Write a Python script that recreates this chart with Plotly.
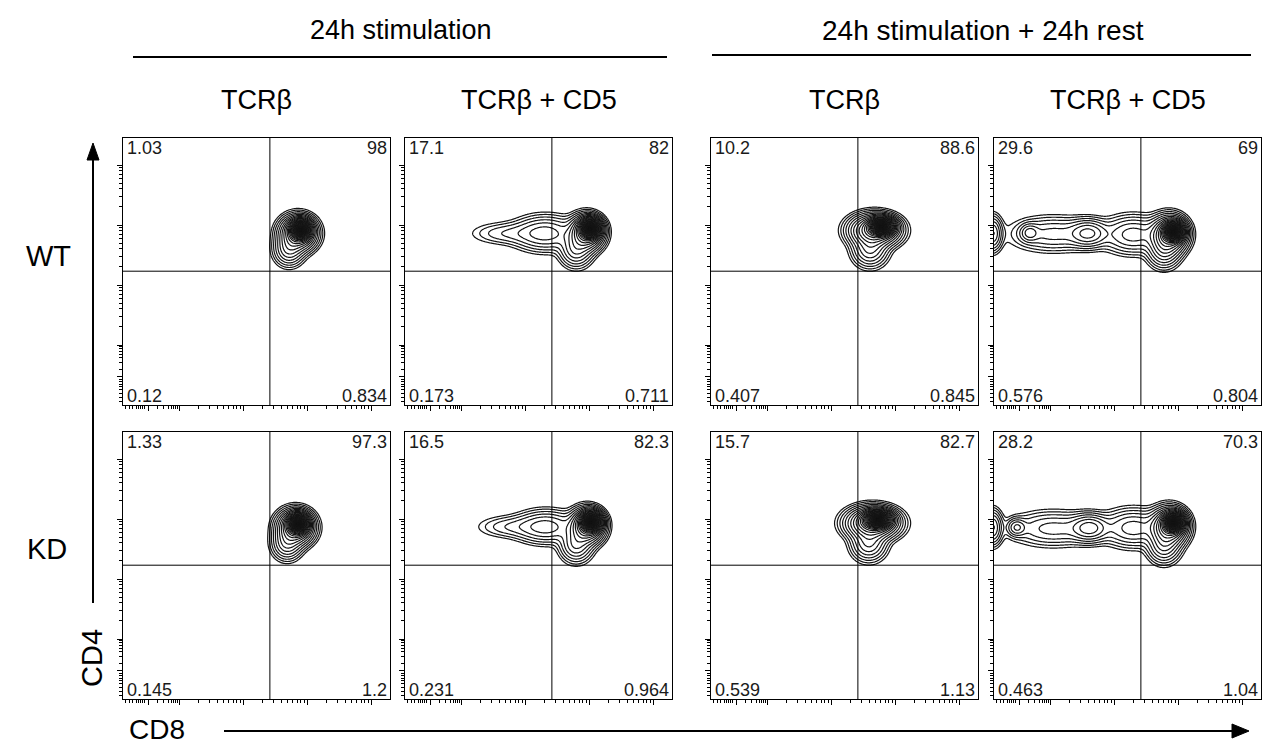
import numpy as np
import plotly.graph_objects as go

W, H = 1264, 747

# ---------------- data ----------------
group_titles = ["24h stimulation", "24h stimulation + 24h rest"]
column_titles = ["TCRβ", "TCRβ + CD5", "TCRβ", "TCRβ + CD5"]
row_titles = ["WT", "KD"]
x_label = "CD8"
y_label = "CD4"

# quadrant percentages: [upper-left, upper-right, lower-left, lower-right]
wt_quadrants = [[1.03, 98, 0.12, 0.834], [17.1, 82, 0.173, 0.711],
                [10.2, 88.6, 0.407, 0.845], [29.6, 69, 0.576, 0.804]]
kd_quadrants = [[1.33, 97.3, 0.145, 1.2], [16.5, 82.3, 0.231, 0.964],
                [15.7, 82.7, 0.539, 1.13], [28.2, 70.3, 0.463, 1.04]]

# quadrant gates (log10 units of CD8 / CD4)
gate_cd8 = 3.42
gate_cd4 = 3.23

# cell populations, per panel: [amplitude, CD8 centre, CD4 centre, CD8 spread, CD4 spread] (log10 units)
wt_tcr = [[1.0, 3.90, 3.92, 0.08, 0.08],
          [0.2, 3.86, 3.86, 0.14, 0.14],
          [0.05, 3.72, 3.60, 0.12, 0.14]]
wt_tcr_cd5 = [[1.0, 4.02, 3.94, 0.08, 0.08],
              [0.2, 3.96, 3.87, 0.13, 0.14],
              [0.05, 3.80, 3.60, 0.13, 0.15],
              [0.04, 3.32, 3.86, 0.26, 0.15],
              [0.012, 2.72, 3.86, 0.30, 0.10]]
wt_rest_tcr = [[1.0, 3.79, 3.97, 0.10, 0.07],
               [0.2, 3.68, 3.91, 0.19, 0.13],
               [0.05, 3.61, 3.60, 0.14, 0.15]]
wt_rest_tcr_cd5 = [[1.0, 3.93, 3.89, 0.08, 0.08],
                   [0.2, 3.86, 3.84, 0.14, 0.15],
                   [0.05, 3.78, 3.58, 0.13, 0.15],
                   [0.04, 3.30, 3.84, 0.25, 0.16],
                   [0.05, 2.60, 3.86, 0.16, 0.12],
                   [0.025, 2.05, 3.85, 0.35, 0.15],
                   [0.03, 1.68, 3.87, 0.08, 0.08],
                   [0.05, 1.10, 3.86, 0.08, 0.15]]
kd_tcr = [[1.0, 3.86, 3.92, 0.08, 0.08],
          [0.2, 3.82, 3.86, 0.14, 0.14],
          [0.05, 3.69, 3.60, 0.12, 0.14]]
kd_tcr_cd5 = [[1.0, 4.03, 3.95, 0.08, 0.08],
              [0.2, 3.97, 3.88, 0.13, 0.14],
              [0.05, 3.80, 3.58, 0.13, 0.15],
              [0.04, 3.33, 3.87, 0.25, 0.14],
              [0.012, 2.78, 3.87, 0.28, 0.10]]
kd_rest_tcr = [[1.0, 3.73, 3.99, 0.11, 0.07],
               [0.2, 3.65, 3.93, 0.20, 0.13],
               [0.05, 3.59, 3.60, 0.14, 0.15]]
kd_rest_tcr_cd5 = [[1.0, 3.93, 3.94, 0.08, 0.08],
                   [0.2, 3.86, 3.87, 0.14, 0.15],
                   [0.05, 3.78, 3.56, 0.13, 0.15],
                   [0.04, 3.30, 3.85, 0.25, 0.16],
                   [0.055, 2.62, 3.85, 0.16, 0.12],
                   [0.025, 2.05, 3.84, 0.35, 0.15],
                   [0.03, 1.48, 3.86, 0.08, 0.08],
                   [0.05, 1.10, 3.86, 0.08, 0.15]]

populations = [[wt_tcr, wt_tcr_cd5, wt_rest_tcr, wt_rest_tcr_cd5],
               [kd_tcr, kd_tcr_cd5, kd_rest_tcr, kd_rest_tcr_cd5]]
quadrants = [wt_quadrants, kd_quadrants]

# axis tick positions (logicle-like display, log10 units)
x_major_ticks = [1.53, 2, 3, 4, 5]
y_major_ticks = [1.47, 2, 3, 4, 5]
x_linear_ticks = [1.16, 1.22, 1.28, 1.33, 1.37, 1.40, 1.43, 1.46, 1.66, 1.76, 1.83, 1.88, 1.92, 1.95, 1.98]
y_linear_ticks = [1.06, 1.13, 1.20, 1.26, 1.31, 1.35, 1.39, 1.43, 1.60, 1.71, 1.79, 1.85, 1.90, 1.94, 1.97]
log_minor_ticks = [k + np.log10(m) for k in (2, 3, 4) for m in range(2, 10)]

# ---------------- layout geometry ----------------
col_left = [123, 405, 711, 994]
row_top = [138, 432]
PANEL = 267
X_RANGE = [1.125, 1.125 + PANEL / 64]
Y_RANGE = [1.0, 1.0 + PANEL / 60]

FONT = "Liberation Sans, Arial, sans-serif"


def px(x):
    return x / W


def py(y):
    return 1 - y / H


fig = go.Figure()
gx = np.linspace(X_RANGE[0], X_RANGE[1], 320)
gy = np.linspace(Y_RANGE[0], Y_RANGE[1], 320)
XX, YY = np.meshgrid(gx, gy)

LMAX = 6.5
P = 0.25
NLEV = 40
zmin = -(LMAX ** P)
step = -zmin / NLEV

layout_axes = {}
annotations = []
shapes = []

idx = 0
for r in range(2):
    for c in range(4):
        idx += 1
        xa = "x" if idx == 1 else f"x{idx}"
        ya = "y" if idx == 1 else f"y{idx}"
        comps = populations[r][c]
        d = np.zeros_like(XX)
        for a, mx, my, sx, sy in comps:
            d += a * np.exp(-((XX - mx) ** 2 / (2 * sx ** 2) + (YY - my) ** 2 / (2 * sy ** 2)))
        L = -np.log(np.maximum(d / d.max(), 1e-12))
        z = -(L ** P)
        fig.add_trace(go.Contour(
            x=gx, y=gy, z=z, xaxis=xa, yaxis=ya,
            contours=dict(coloring="lines", start=zmin + step * 0.5, end=-step * 0.3, size=step),
            colorscale=[[0, "#141414"], [1, "#141414"]], showscale=False,
            line=dict(width=1.2, smoothing=1), hoverinfo="skip"))

        left = col_left[c]
        top = row_top[r]
        axcommon = dict(showgrid=False, zeroline=False, showline=True, linecolor="black",
                        linewidth=1, mirror=True, ticks="outside", ticklen=5, tickwidth=1,
                        tickcolor="black", showticklabels=False)
        layout_axes["xaxis" if idx == 1 else f"xaxis{idx}"] = dict(
            axcommon, domain=[px(left), px(left + PANEL)], range=X_RANGE,
            anchor=ya, tickmode="array", tickvals=x_major_ticks,
            minor=dict(tickmode="array", tickvals=x_linear_ticks + log_minor_ticks,
                       ticks="outside", ticklen=3, tickwidth=1, tickcolor="black", showgrid=False))
        layout_axes["yaxis" if idx == 1 else f"yaxis{idx}"] = dict(
            axcommon, domain=[py(top + PANEL), py(top)], range=Y_RANGE,
            anchor=xa, tickmode="array", tickvals=y_major_ticks,
            minor=dict(tickmode="array", tickvals=y_linear_ticks + log_minor_ticks,
                       ticks="outside", ticklen=3, tickwidth=1, tickcolor="black", showgrid=False))

        # gates
        shapes.append(dict(type="line", xref=xa, yref=f"{ya} domain", x0=gate_cd8, x1=gate_cd8,
                           y0=0, y1=1, line=dict(color="black", width=1)))
        shapes.append(dict(type="line", xref=f"{xa} domain", yref=ya, x0=0, x1=1,
                           y0=gate_cd4, y1=gate_cd4, line=dict(color="black", width=1)))

        q = quadrants[r][c]
        qf = dict(family=FONT, size=18, color="#1a1a1a")
        annotations += [
            dict(text=str(q[0]), xref=f"{xa} domain", yref=f"{ya} domain", x=0, y=1,
                 xanchor="left", yanchor="top", xshift=2, yshift=2, showarrow=False, font=qf),
            dict(text=str(q[1]), xref=f"{xa} domain", yref=f"{ya} domain", x=1, y=1,
                 xanchor="right", yanchor="top", xshift=-1, yshift=2, showarrow=False, font=qf),
            dict(text=str(q[2]), xref=f"{xa} domain", yref=f"{ya} domain", x=0, y=0,
                 xanchor="left", yanchor="bottom", xshift=2, yshift=-3, showarrow=False, font=qf),
            dict(text=str(q[3]), xref=f"{xa} domain", yref=f"{ya} domain", x=1, y=0,
                 xanchor="right", yanchor="bottom", xshift=-1, yshift=-3, showarrow=False, font=qf),
        ]

# titles
tf = dict(family=FONT, size=27, color="black")
annotations.append(dict(text=group_titles[0], xref="paper", yref="paper", x=px(401), y=py(30),
                        xanchor="center", yanchor="middle", showarrow=False, font=tf))
annotations.append(dict(text=group_titles[1], xref="paper", yref="paper", x=px(983), y=py(30),
                        xanchor="center", yanchor="middle", showarrow=False,
                        font=dict(family=FONT, size=28, color="black")))
shapes.append(dict(type="line", xref="paper", yref="paper", x0=px(133), x1=px(667), y0=py(57), y1=py(57),
                   line=dict(color="black", width=2)))
shapes.append(dict(type="line", xref="paper", yref="paper", x0=px(712), x1=px(1251), y0=py(55), y1=py(55),
                   line=dict(color="black", width=2)))

for c in range(4):
    annotations.append(dict(text=column_titles[c], xref="paper", yref="paper",
                            x=px(col_left[c] + PANEL / 2), y=py(100), xanchor="center", yanchor="middle",
                            showarrow=False, font=tf))

rf = dict(family=FONT, size=29, color="black")
annotations.append(dict(text=row_titles[0], xref="paper", yref="paper", x=px(48), y=py(256),
                        xanchor="center", yanchor="middle", showarrow=False, font=rf))
annotations.append(dict(text=row_titles[1], xref="paper", yref="paper", x=px(47), y=py(549),
                        xanchor="center", yanchor="middle", showarrow=False, font=rf))

# axis labels and arrows
annotations.append(dict(text=y_label, xref="paper", yref="paper", x=px(92), y=py(658), textangle=-90,
                        xanchor="center", yanchor="middle", showarrow=False, font=rf))
annotations.append(dict(text=x_label, xref="paper", yref="paper", x=px(157), y=py(729),
                        xanchor="center", yanchor="middle", showarrow=False,
                        font=dict(family=FONT, size=28, color="black")))

shapes.append(dict(type="line", xref="paper", yref="paper", x0=px(93), x1=px(93), y0=py(603), y1=py(158),
                   line=dict(color="black", width=2)))
shapes.append(dict(type="path", xref="paper", yref="paper",
                   path=f"M {px(87)},{py(160)} L {px(99)},{py(160)} L {px(93)},{py(143)} Z",
                   fillcolor="black", line=dict(color="black", width=1)))
shapes.append(dict(type="line", xref="paper", yref="paper", x0=px(224), x1=px(1234), y0=py(731), y1=py(731),
                   line=dict(color="black", width=2)))
shapes.append(dict(type="path", xref="paper", yref="paper",
                   path=f"M {px(1232)},{py(724)} L {px(1232)},{py(738)} L {px(1249)},{py(731)} Z",
                   fillcolor="black", line=dict(color="black", width=1)))

fig.update_layout(width=W, height=H, margin=dict(l=0, r=0, t=0, b=0),
                  paper_bgcolor="white", plot_bgcolor="white", showlegend=False,
                  annotations=annotations, shapes=shapes, **layout_axes)

fig.write_html("out.html", config={"displayModeBar": False},
               post_script="document.body.style.margin='0px';document.body.style.overflow='hidden';")
